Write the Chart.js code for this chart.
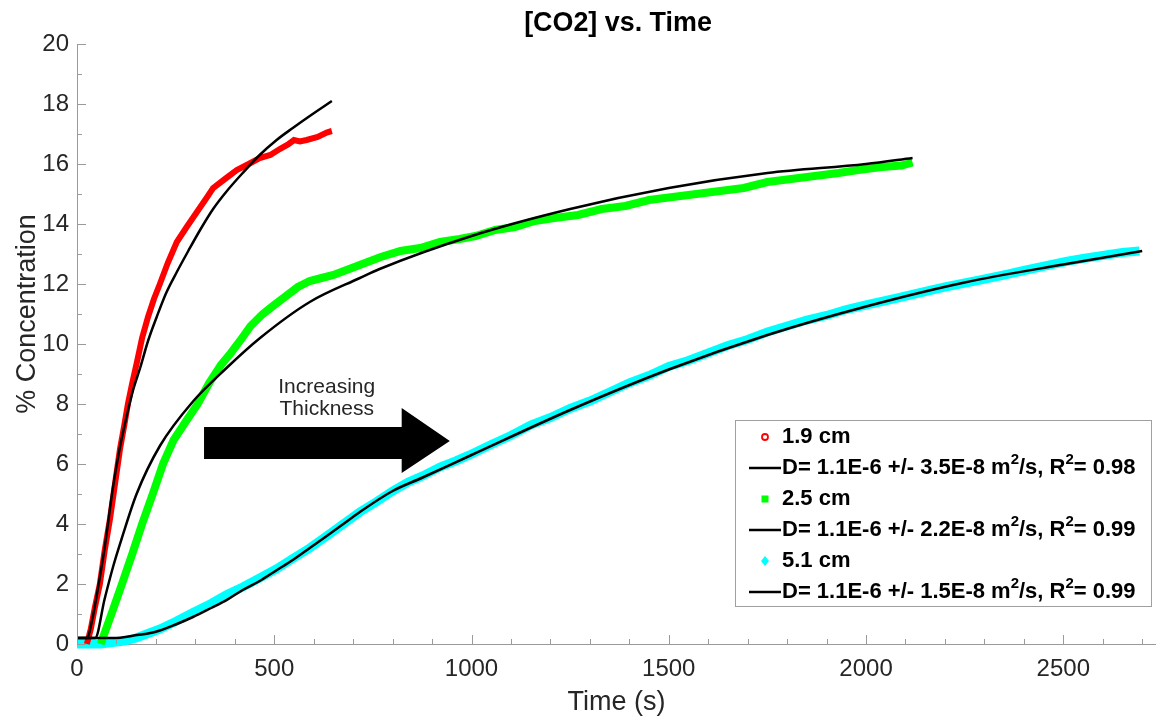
<!DOCTYPE html>
<html>
<head>
<meta charset="utf-8">
<title>[CO2] vs. Time</title>
<script src="https://cdn.jsdelivr.net/npm/chart.js@4.4.1/dist/chart.umd.min.js"></script>
<style>
  html, body { margin: 0; padding: 0; background: #fff; }
</style>
</head>
<body>
<canvas id="co2Chart" width="1156" height="719"></canvas>
<script>
// ---- data (time in s, % CO2) ----
const red19T = [25, 35, 45, 58, 70, 84, 97, 109, 120, 129, 140, 152, 165, 180, 195, 210, 230, 253, 278, 304, 330, 345, 375, 405, 435, 463, 490, 514, 535, 550, 565, 582, 610, 633, 646];
const red19Y = [0.0, 0.5, 1.2, 2.0, 3.1, 4.2, 5.4, 6.5, 7.3, 8.0, 8.7, 9.4, 10.2, 10.9, 11.5, 12.0, 12.7, 13.4, 13.9, 14.4, 14.9, 15.2, 15.5, 15.8, 16.0, 16.2, 16.3, 16.5, 16.65, 16.8, 16.75, 16.8, 16.9, 17.05, 17.1];

const fit19T = [0, 25, 40, 55, 70, 91, 108, 126, 143, 160, 180, 202, 226, 253, 282, 312, 345, 380, 420, 463, 506, 547, 590, 646];
const fit19Y = [0.2, 0.2, 0.9, 2.0, 3.2, 5.2, 6.5, 7.6, 8.5, 9.2, 10.1, 10.9, 11.7, 12.4, 13.1, 13.8, 14.5, 15.1, 15.7, 16.3, 16.8, 17.2, 17.6, 18.1];

const green25T = [60, 90, 114, 140, 165, 192, 218, 245, 275, 306, 335, 365, 390, 413, 440, 471, 500, 530, 560, 590, 620, 650, 690, 730, 770, 820, 870, 920, 970, 1010, 1060, 1110, 1160, 1210, 1270, 1330, 1390, 1450, 1510, 1570, 1630, 1690, 1750, 1810, 1870, 1930, 1980, 2040, 2090, 2118];
const green25Y = [0.0, 1.1, 2.0, 3.0, 4.0, 5.0, 6.0, 6.8, 7.4, 8.0, 8.7, 9.3, 9.7, 10.1, 10.6, 11.0, 11.3, 11.6, 11.9, 12.1, 12.2, 12.3, 12.5, 12.7, 12.9, 13.1, 13.2, 13.4, 13.5, 13.6, 13.8, 13.9, 14.1, 14.2, 14.3, 14.5, 14.6, 14.8, 14.9, 15.0, 15.1, 15.2, 15.4, 15.5, 15.6, 15.7, 15.8, 15.9, 15.95, 16.05];

const fit25T = [0, 46, 70, 92, 113, 151, 210, 295, 379, 464, 590, 717, 767, 1000, 1250, 1500, 1750, 2000, 2118];
const fit25Y = [0.2, 0.2, 1.5, 2.6, 3.5, 5.0, 6.6, 8.1, 9.2, 10.2, 11.4, 12.2, 12.5, 13.6, 14.5, 15.2, 15.7, 16.0, 16.2];

const cyan51T = [0, 30, 60, 90, 120, 150, 180, 210, 250, 294, 340, 380, 420, 463, 505, 547, 590, 633, 675, 717, 760, 800, 840, 876, 920, 960, 995, 1050, 1100, 1150, 1200, 1250, 1300, 1350, 1400, 1450, 1500, 1550, 1600, 1650, 1700, 1750, 1800, 1850, 1900, 1950, 2000, 2085, 2150, 2200, 2295, 2350, 2400, 2507, 2550, 2600, 2650, 2693];
const cyan51Y = [0.0, 0.0, 0.0, 0.05, 0.1, 0.2, 0.35, 0.5, 0.75, 1.05, 1.35, 1.65, 1.9, 2.2, 2.5, 2.85, 3.2, 3.6, 4.0, 4.4, 4.75, 5.1, 5.4, 5.6, 5.9, 6.1, 6.3, 6.65, 6.95, 7.3, 7.55, 7.85, 8.1, 8.4, 8.7, 8.95, 9.25, 9.45, 9.7, 9.95, 10.15, 10.4, 10.6, 10.8, 10.95, 11.15, 11.3, 11.55, 11.75, 11.9, 12.15, 12.3, 12.45, 12.75, 12.85, 12.95, 13.05, 13.1];

const fit51T = [0, 100, 130, 152, 180, 210, 250, 294, 340, 380, 420, 463, 505, 547, 590, 633, 675, 717, 800, 876, 1000, 1250, 1500, 1750, 2000, 2250, 2500, 2700];
const fit51Y = [0.2, 0.2, 0.25, 0.3, 0.35, 0.45, 0.65, 0.9, 1.2, 1.47, 1.8, 2.1, 2.45, 2.8, 3.2, 3.6, 4.0, 4.4, 5.1, 5.55, 6.3, 7.8, 9.15, 10.3, 11.25, 12.05, 12.65, 13.1];

const xTickLabels = [0, 500, 1000, 1500, 2000, 2500];
const yTickLabels = [0, 2, 4, 6, 8, 10, 12, 14, 16, 18, 20];

const labels = ["1.9 cm", "D= 1.1E-6 +/- 3.5E-8 m²/s, R²= 0.98",
                "2.5 cm", "D= 1.1E-6 +/- 2.2E-8 m²/s, R²= 0.99",
                "5.1 cm", "D= 1.1E-6 +/- 1.5E-8 m²/s, R²= 0.99"];

const FONT = "'Liberation Sans', Arial, Helvetica, sans-serif";
const AXIS_COLOR = "#9a9a9a";
const TEXT_COLOR = "#262626";

function pts(xs, ys) {
  return xs.map((x, i) => ({ x: x, y: ys[i] }));
}

function dataSet(label, xs, ys, color, width, style) {
  return {
    label: label, data: pts(xs, ys), showLine: true,
    borderColor: color, backgroundColor: color, borderWidth: width,
    pointRadius: 0, pointStyle: style, order: 2, clip: 6,
  };
}

function fitSet(label, xs, ys) {
  return {
    label: label, data: pts(xs, ys), showLine: true,
    borderColor: "#000", borderWidth: 2.5, cubicInterpolationMode: "monotone",
    pointRadius: 0, pointStyle: "line", order: 1,
  };
}

// inward tick marks, MATLAB style
const axisTicks = {
  id: "axisTicks",
  afterDatasetsDraw(chart) {
    const { ctx, chartArea: a, scales: { x, y } } = chart;
    ctx.save();
    ctx.strokeStyle = AXIS_COLOR;
    ctx.lineWidth = 1;
    ctx.beginPath();
    x.ticks.forEach((t) => {
      const px = Math.round(x.getPixelForValue(t.value)) + 0.5;
      const len = xTickLabels.includes(t.value) ? 9 : 5;
      ctx.moveTo(px, a.bottom);
      ctx.lineTo(px, a.bottom - len);
    });
    y.ticks.forEach((t) => {
      const py = Math.round(y.getPixelForValue(t.value)) + 0.5;
      const len = yTickLabels.includes(t.value) ? 9 : 5;
      ctx.moveTo(a.left, py);
      ctx.lineTo(a.left + len, py);
    });
    ctx.stroke();
    ctx.restore();
  },
};

// text with "²" drawn as a raised small 2
function drawRich(ctx, text, x, y, size) {
  const parts = text.split("²");
  parts.forEach((p, i) => {
    ctx.font = "bold " + size + "px " + FONT;
    ctx.fillText(p, x, y);
    x += ctx.measureText(p).width;
    if (i < parts.length - 1) {
      ctx.font = "bold " + Math.round(size * 0.68) + "px " + FONT;
      ctx.fillText("2", x, y - size * 0.38);
      x += ctx.measureText("2").width;
    }
  });
}

const decorations = {
  id: "decorations",
  afterDraw(chart) {
    const { ctx, chartArea: a, scales: { x, y } } = chart;
    ctx.save();

    // title
    ctx.fillStyle = "#000";
    ctx.textAlign = "center";
    ctx.textBaseline = "middle";
    ctx.save();
    ctx.translate(618, 23);
    ctx.scale(0.96, 1);
    ctx.font = "bold 28px " + FONT;
    ctx.fillText("[CO2] vs. Time", 0, 0);
    ctx.restore();

    // y axis title
    ctx.save();
    ctx.translate(28, a.top + 270);
    ctx.rotate(-Math.PI / 2);
    ctx.fillStyle = TEXT_COLOR;
    ctx.font = "27px " + FONT;
    ctx.fillText("% Concentration", 0, 0);
    ctx.restore();

    // arrow annotation (data coords)
    const tail = x.getPixelForValue(322), base = x.getPixelForValue(823), tip = x.getPixelForValue(945);
    const bt = y.getPixelForValue(7.23), bb = y.getPixelForValue(6.17);
    const ht = y.getPixelForValue(7.87), hb = y.getPixelForValue(5.70), hm = y.getPixelForValue(6.77);
    ctx.beginPath();
    ctx.moveTo(tail, bt);
    ctx.lineTo(base, bt);
    ctx.lineTo(base, ht);
    ctx.lineTo(tip, hm);
    ctx.lineTo(base, hb);
    ctx.lineTo(base, bb);
    ctx.lineTo(tail, bb);
    ctx.closePath();
    ctx.fillStyle = "#000";
    ctx.fill();

    ctx.fillStyle = TEXT_COLOR;
    ctx.font = "21px " + FONT;
    ctx.fillText("Increasing", x.getPixelForValue(633), y.getPixelForValue(8.57));
    ctx.fillText("Thickness", x.getPixelForValue(633), y.getPixelForValue(7.83));

    // legend box
    const bx = a.right - 421, by = a.bottom - 224, bw = 416, bh = 186;
    ctx.fillStyle = "#fff";
    ctx.fillRect(bx, by, bw, bh);
    ctx.strokeStyle = "#a0a0a0";
    ctx.lineWidth = 1;
    ctx.strokeRect(bx + 0.5, by + 0.5, bw, bh);

    ctx.textAlign = "left";
    chart.data.datasets.forEach((ds, i) => {
      const ry = by + 17 + i * 31;
      const mx = bx + 30;
      ctx.strokeStyle = ds.borderColor;
      ctx.fillStyle = ds.borderColor;
      if (ds.pointStyle === "line") {
        ctx.lineWidth = 2.5;
        ctx.beginPath();
        ctx.moveTo(bx + 14, ry);
        ctx.lineTo(bx + 46, ry);
        ctx.stroke();
      } else if (ds.pointStyle === "circle") {
        ctx.lineWidth = 1.8;
        ctx.beginPath();
        ctx.arc(mx, ry, 3, 0, Math.PI * 2);
        ctx.stroke();
      } else if (ds.pointStyle === "rect") {
        ctx.fillRect(mx - 3.5, ry - 3.5, 7, 7);
      } else {
        ctx.beginPath();
        ctx.moveTo(mx, ry - 5);
        ctx.lineTo(mx + 4, ry);
        ctx.lineTo(mx, ry + 5);
        ctx.lineTo(mx - 4, ry);
        ctx.closePath();
        ctx.fill();
      }
      ctx.fillStyle = "#000";
      ctx.textBaseline = "middle";
      drawRich(ctx, ds.label, bx + 47, ry, 22);
    });
    ctx.restore();
  },
};

new Chart(document.getElementById("co2Chart"), {
  type: "scatter",
  data: {
    datasets: [
      dataSet(labels[0], red19T, red19Y, "#ff0000", 6, "circle"),
      fitSet(labels[1], fit19T, fit19Y),
      dataSet(labels[2], green25T, green25Y, "#00ff00", 8, "rect"),
      fitSet(labels[3], fit25T, fit25Y),
      dataSet(labels[4], cyan51T, cyan51Y, "#00ffff", 9, "rectRot"),
      fitSet(labels[5], fit51T, fit51Y),
    ],
  },
  options: {
    responsive: false,
    animation: false,
    layout: { padding: { top: 44, right: 0, bottom: 0, left: 0 } },
    plugins: {
      legend: { display: false },
      title: { display: false },
      tooltip: { enabled: false },
    },
    scales: {
      x: {
        type: "linear",
        min: 0,
        max: 2735,
        grid: { display: false, drawTicks: false },
        border: { display: true, color: AXIS_COLOR, width: 1 },
        ticks: {
          stepSize: 100,
          includeBounds: false,
          autoSkip: false,
          maxRotation: 0,
          padding: 11,
          color: TEXT_COLOR,
          font: { family: FONT, size: 24 },
          callback: (v) => (xTickLabels.includes(v) ? String(v) : ""),
        },
        title: {
          display: true,
          text: "Time (s)",
          color: TEXT_COLOR,
          font: { family: FONT, size: 27 },
          padding: { top: 0, bottom: 0 },
        },
        afterFit: (s) => { s.height = 75; },
      },
      y: {
        type: "linear",
        min: 0,
        max: 20,
        grid: { display: false, drawTicks: false },
        border: { display: true, color: AXIS_COLOR, width: 1 },
        ticks: {
          stepSize: 1,
          autoSkip: false,
          padding: 8,
          color: TEXT_COLOR,
          font: { family: FONT, size: 24 },
          callback: (v) => (yTickLabels.includes(v) ? String(v) : ""),
        },
        title: { display: false },
        afterFit: (s) => { s.width = 77; },
      },
    },
  },
  plugins: [axisTicks, decorations],
});
</script>
</body>
</html>
